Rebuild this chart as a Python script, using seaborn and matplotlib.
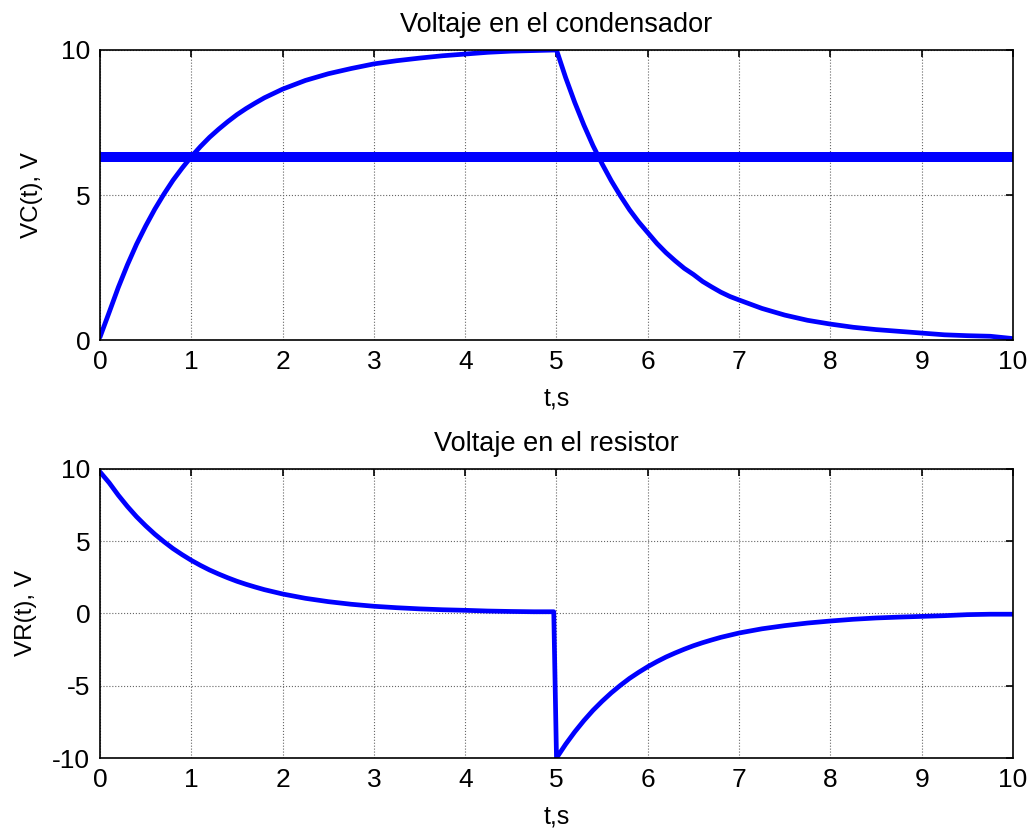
# RC circuit: capacitor and resistor voltages, MATLAB-style figure

import numpy as np
import pandas as pd
import matplotlib as mpl
mpl.use('Agg')
import matplotlib.pyplot as plt
import seaborn as sns

# Sample times (s) for VC
t_vc = [0.0, 0.1, 0.2, 0.3, 0.4, 0.5, 0.6, 0.7, 0.8, 0.9, 1.0,
        1.1, 1.2, 1.3, 1.4, 1.5, 1.6, 1.7, 1.8, 1.9, 2.0,
        2.25, 2.5, 2.75, 3.0, 3.25, 3.5, 3.75, 4.0, 4.25, 4.5, 4.75, 5.0,
        5.1, 5.2, 5.3, 5.4, 5.5, 5.6, 5.7, 5.8, 5.9, 6.0,
        6.1, 6.2, 6.3, 6.4, 6.5, 6.6, 6.7, 6.8, 6.9, 7.0,
        7.25, 7.5, 7.75, 8.0, 8.25, 8.5, 8.75, 9.0, 9.25, 9.5, 9.75, 10.0]

# Capacitor voltage VC(t), V
vc_vals = [0.1, 0.95, 1.81, 2.59, 3.30, 3.93, 4.51, 5.03, 5.51, 5.93, 6.32,
           6.67, 6.99, 7.27, 7.53, 7.77, 7.98, 8.17, 8.35, 8.50, 8.65,
           8.95, 9.18, 9.36, 9.52, 9.63, 9.72, 9.80, 9.86, 9.92, 9.96, 9.98, 10.0,
           9.05, 8.19, 7.41, 6.70, 6.07, 5.49, 4.97, 4.49, 4.07, 3.70,
           3.33, 3.01, 2.73, 2.47, 2.26, 2.02, 1.83, 1.65, 1.50, 1.38,
           1.09, 0.86, 0.68, 0.55, 0.44, 0.36, 0.30, 0.24, 0.18, 0.15, 0.13, 0.05]

# Dense line at 0.632*Vmax
vc_level_t = [0.0, 10.0]
vc_level = [6.32, 6.32]

# Resistor voltage VR(t), V (jump at t = 5)
t_vr = [0.0, 0.1, 0.2, 0.3, 0.4, 0.5, 0.6, 0.7, 0.8, 0.9, 1.0,
        1.1, 1.2, 1.3, 1.4, 1.5, 1.6, 1.7, 1.8, 1.9, 2.0,
        2.25, 2.5, 2.75, 3.0, 3.25, 3.5, 3.75, 4.0, 4.25, 4.5, 4.75, 4.97, 5.0,
        5.1, 5.2, 5.3, 5.4, 5.5, 5.6, 5.7, 5.8, 5.9, 6.0,
        6.1, 6.2, 6.3, 6.4, 6.5, 6.6, 6.7, 6.8, 6.9, 7.0,
        7.25, 7.5, 7.75, 8.0, 8.25, 8.5, 8.75, 9.0, 9.25, 9.5, 9.75, 10.0]
vr_vals = [9.8, 9.05, 8.19, 7.41, 6.70, 6.07, 5.49, 4.97, 4.49, 4.07, 3.68,
           3.33, 3.01, 2.73, 2.47, 2.23, 2.02, 1.83, 1.65, 1.50, 1.35,
           1.05, 0.82, 0.64, 0.50, 0.40, 0.32, 0.26, 0.22, 0.17, 0.14, 0.12, 0.12, -10.0,
           -9.05, -8.19, -7.41, -6.70, -6.07, -5.49, -4.97, -4.49, -4.07, -3.68,
           -3.33, -3.01, -2.73, -2.47, -2.23, -2.02, -1.83, -1.65, -1.50, -1.35,
           -1.06, -0.84, -0.66, -0.52, -0.40, -0.31, -0.25, -0.20, -0.15, -0.08, -0.05, -0.05]

x_ticks = [0, 1, 2, 3, 4, 5, 6, 7, 8, 9, 10]
vc_ticks = [0, 5, 10]
vr_ticks = [-10, -5, 0, 5, 10]

sns.set_theme(style='white')
plt.rcParams['font.family'] = ['Liberation Sans', 'DejaVu Sans']
plt.rcParams['axes.unicode_minus'] = False
for key in ['text.color', 'axes.labelcolor', 'xtick.color', 'ytick.color']:
    plt.rcParams[key] = 'black'

fig = plt.figure(figsize=(10.34, 8.4), dpi=100)
ax1 = fig.add_axes([0.0967, 0.5952, 0.883, 0.3453])
ax2 = fig.add_axes([0.0967, 0.0976, 0.883, 0.3441])

blue = (0, 0, 1)

sns.lineplot(ax=ax1, x=vc_level_t, y=vc_level, color=blue, linewidth=7.2,
             estimator=None, sort=False, legend=False)
sns.lineplot(ax=ax1, x=t_vc, y=vc_vals, color=blue, linewidth=3.4,
             estimator=None, sort=False, legend=False)
sns.lineplot(ax=ax2, x=t_vr, y=vr_vals, color=blue, linewidth=3.4,
             estimator=None, sort=False, legend=False)

for ax, yt, title, ylab, ylab_x in [(ax1, vc_ticks, 'Voltaje en el condensador', 'VC(t), V', -0.062),
                                    (ax2, vr_ticks, 'Voltaje en el resistor', 'VR(t), V', -0.069)]:
    ax.set_xlim(0, 10)
    ax.set_ylim(yt[0], yt[-1])
    ax.set_xticks(x_ticks)
    ax.set_yticks(yt)
    ax.grid(True, linestyle=':', color='0.4', linewidth=0.8)
    ax.tick_params(axis='both', which='both', direction='in', top=True, right=True,
                   length=5, width=1.2, labelsize=19, pad=7, color='black')
    for sp in ax.spines.values():
        sp.set_color('black')
        sp.set_linewidth(1.2)
    ax.set_title(title, fontsize=19.5, pad=13)
    ax.set_xlabel('t,s', fontsize=18, labelpad=9.5)
    ax.set_ylabel(ylab, fontsize=17.5)
    ax.yaxis.set_label_coords(ylab_x, 0.5)

fig.savefig('out.png', dpi=100, facecolor='white')
plt.close()
